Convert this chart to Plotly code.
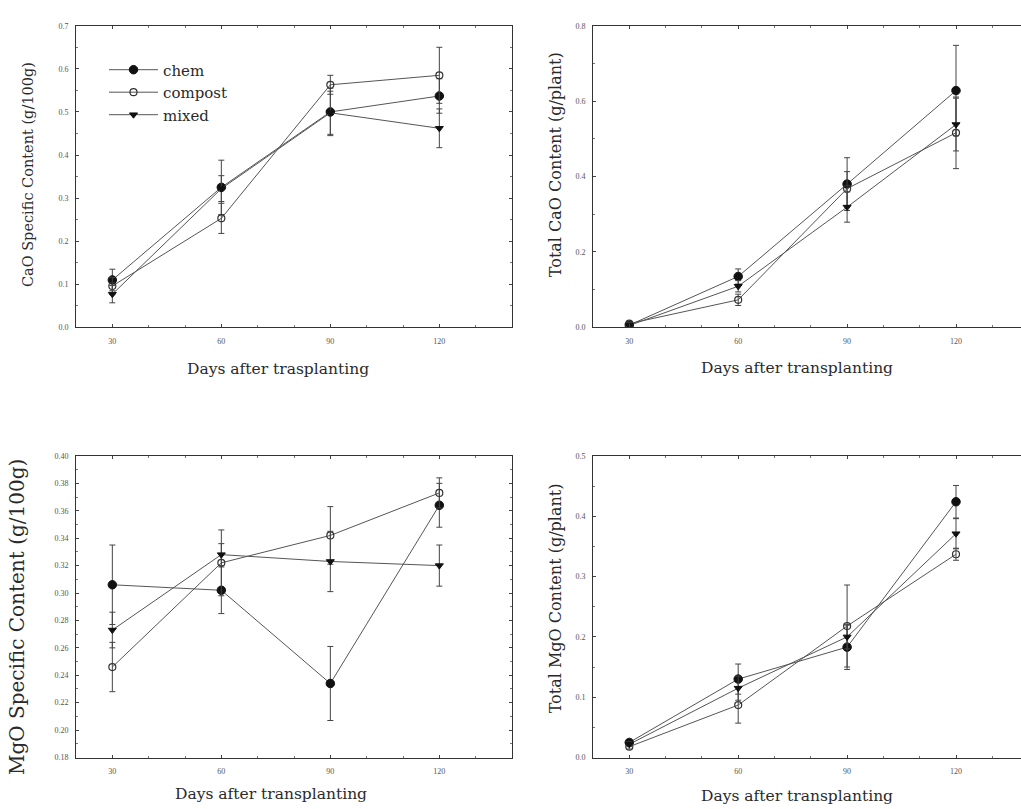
import plotly.graph_objects as go

days = [30, 60, 90, 120]
series_names = ["chem", "compost", "mixed"]

# Panel 1: CaO specific content (g/100g)
cao_spec = {
    "chem":    [0.110, 0.325, 0.500, 0.537],
    "compost": [0.096, 0.253, 0.563, 0.585],
    "mixed":   [0.077, 0.322, 0.498, 0.462],
}
cao_spec_err = {
    "chem":    [0.025, 0.063, 0.055, 0.040],
    "compost": [0.020, 0.035, 0.022, 0.065],
    "mixed":   [0.020, 0.030, 0.050, 0.045],
}
# Panel 2: Total CaO content (g/plant)
cao_tot = {
    "chem":    [0.006, 0.135, 0.380, 0.628],
    "compost": [0.010, 0.073, 0.368, 0.516],
    "mixed":   [0.005, 0.109, 0.319, 0.538],
}
cao_tot_err = {
    "chem":    [0.004, 0.020, 0.070, 0.120],
    "compost": [0.004, 0.015, 0.045, 0.095],
    "mixed":   [0.004, 0.015, 0.040, 0.070],
}
# Panel 3: MgO specific content (g/100g)
mgo_spec = {
    "chem":    [0.306, 0.302, 0.234, 0.364],
    "compost": [0.246, 0.322, 0.342, 0.373],
    "mixed":   [0.273, 0.328, 0.323, 0.320],
}
mgo_spec_err = {
    "chem":    [0.029, 0.017, 0.027, 0.016],
    "compost": [0.018, 0.024, 0.021, 0.011],
    "mixed":   [0.013, 0.008, 0.022, 0.015],
}
# Panel 4: Total MgO content (g/plant)
mgo_tot = {
    "chem":    [0.025, 0.130, 0.183, 0.424],
    "compost": [0.018, 0.087, 0.218, 0.337],
    "mixed":   [0.022, 0.115, 0.200, 0.371],
}
mgo_tot_err = {
    "chem":    [0.004, 0.025, 0.037, 0.027],
    "compost": [0.004, 0.030, 0.068, 0.010],
    "mixed":   [0.004, 0.020, 0.020, 0.025],
}

y_titles = ["CaO Specific Content (g/100g)", "Total CaO Content (g/plant)",
            "MgO Specific Content (g/100g)", "Total MgO Content (g/plant)"]
x_titles = ["Days after trasplanting", "Days after transplanting",
            "Days after transplanting", "Days after transplanting"]

W, H = 1021, 809
FONT = "DejaVu Serif"
TFONT = "Liberation Serif"
INK = "#2a2a2a"
LINE = "#555555"

styles = {
    "chem":    dict(symbol="circle", size=8.5, color="#111111", line=dict(color="#111111", width=1)),
    "compost": dict(symbol="circle-open", size=7, color="#333333", line=dict(color="#333333", width=1.2)),
    "mixed":   dict(symbol="triangle-down", size=7, color="#111111", line=dict(color="#111111", width=1)),
}

# panel geometry in pixels: (x0, x1, y0_top, y1_bottom)
panels = [
    (76, 512, 22, 327),
    (593, 1021, 22, 327),
    (76, 512, 457, 762),
    (593, 1021, 457, 762),
]
xranges = [[20, 140], [20, 20 + (1021 - 593) / 3.63], [20, 140], [20, 20 + (1021 - 593) / 3.63]]
yranges = [[0, 0.7], [0, 0.8], [0.18, 0.40], [0, 0.5]]
ydticks = [0.1, 0.2, 0.02, 0.1]
yfmt = [".1f", ".1f", ".2f", ".1f"]

datasets = [(cao_spec, cao_spec_err), (cao_tot, cao_tot_err),
            (mgo_spec, mgo_spec_err), (mgo_tot, mgo_tot_err)]

fig = go.Figure()

for i, (vals, errs) in enumerate(datasets):
    xa = "x" if i == 0 else f"x{i+1}"
    ya = "y" if i == 0 else f"y{i+1}"
    for name in series_names:
        fig.add_trace(go.Scatter(
            x=days, y=vals[name], mode="lines+markers", name=name,
            xaxis=xa, yaxis=ya, showlegend=False,
            line=dict(color=LINE, width=1),
            marker=styles[name],
            error_y=dict(type="data", array=errs[name], visible=True,
                         color="#444444", thickness=1, width=3),
        ))

# legend-only traces (no error bars in icons)
for k, name in enumerate(series_names):
    fig.add_trace(go.Scatter(
        x=[None], y=[None], mode="lines+markers", name=name,
        line=dict(color=LINE, width=1), marker=styles[name],
        legendgroup=name, showlegend=True,
    ))

layout = dict(
    width=W, height=H, margin=dict(l=0, r=0, t=0, b=0),
    paper_bgcolor="white", plot_bgcolor="white",
    font=dict(family=FONT, color=INK),
    showlegend=True,
    legend=dict(x=104 / W, y=1 - 50 / H, xanchor="left", yanchor="top",
                bgcolor="rgba(0,0,0,0)", font=dict(family=FONT, size=15, color=INK),
                itemwidth=49, tracegroupgap=3, traceorder="normal"),
)

annotations = []
ytitle_size = {0: 14.5, 1: 16, 2: 20, 3: 16}
ytitle_x = {0: 28, 1: 555, 2: 17, 3: 555}
ytitle_cy = {0: 173, 1: 163, 2: 620, 3: 601}
xtitle_y = {0: 369, 1: 368, 2: 799, 3: 801}
xtitle_cx = {0: 278, 1: 797, 2: 271, 3: 797}

for i, (x0, x1, yt, yb) in enumerate(panels):
    sfx = "" if i == 0 else str(i + 1)
    right_panel = i in (1, 3)
    layout["xaxis" + sfx] = dict(
        domain=[x0 / W, x1 / W], anchor="y" + sfx, range=xranges[i],
        tickmode="array", tickvals=days, ticktext=[str(d) for d in days],
        ticks="inside", ticklen=3, tickcolor="#444", tickwidth=1,
        minor=dict(dtick=10, tick0=0, ticks="inside", ticklen=2, tickcolor="#777"),
        showline=True, linecolor="#333", linewidth=1, mirror="ticks",
        showgrid=False, zeroline=False, ticklabelstandoff=6,
        tickfont=dict(family=TFONT, size=8, color="#555"),
    )
    layout["yaxis" + sfx] = dict(
        domain=[1 - yb / H, 1 - yt / H], anchor="x" + sfx, range=yranges[i],
        dtick=ydticks[i], tick0=0, tickformat=yfmt[i],
        ticks="inside", ticklen=3, tickcolor="#444", tickwidth=1,
        minor=dict(dtick=ydticks[i] / 2, ticks="inside", ticklen=2, tickcolor="#777"),
        showline=True, linecolor="#333", linewidth=1,
        mirror=False if right_panel else "ticks",
        showgrid=False, zeroline=False, ticklabelstandoff=5,
        tickfont=dict(family=TFONT, size=8, color="#555"),
    )
    annotations.append(dict(
        text=y_titles[i], xref="paper", yref="paper",
        x=ytitle_x[i] / W, y=1 - ytitle_cy[i] / H, textangle=-90,
        showarrow=False, xanchor="center", yanchor="middle",
        font=dict(family=FONT, size=ytitle_size[i], color=INK),
    ))
    annotations.append(dict(
        text=x_titles[i], xref="paper", yref="paper",
        x=xtitle_cx[i] / W, y=1 - xtitle_y[i] / H, showarrow=False,
        xanchor="center", yanchor="middle",
        font=dict(family=FONT, size=15.5, color=INK),
    ))

layout["annotations"] = annotations
fig.update_layout(**layout)
fig.write_html("out.html")
